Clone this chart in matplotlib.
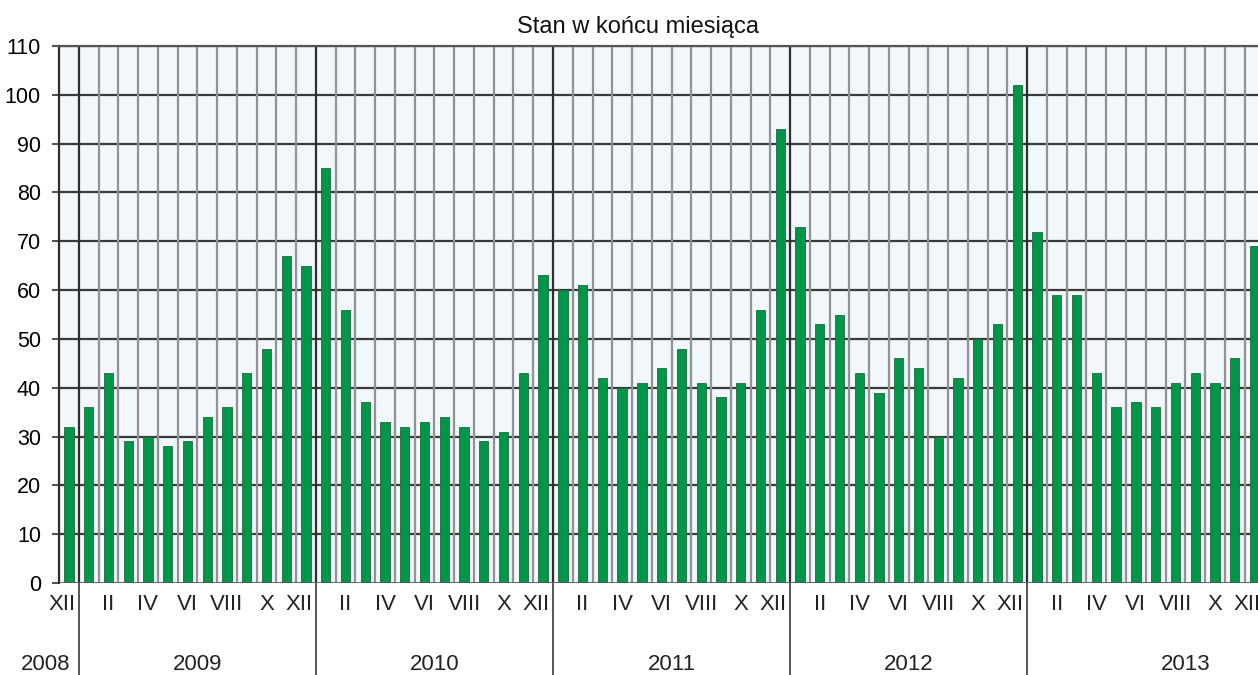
import matplotlib
matplotlib.use("Agg")
import matplotlib.pyplot as plt
from matplotlib.transforms import blended_transform_factory

plt.rcParams['font.family'] = ['Liberation Sans', 'DejaVu Sans']

title = "Stan w końcu miesiąca"
years = ["2008", "2009", "2010", "2011", "2012", "2013"]
months = ["I", "II", "III", "IV", "V", "VI", "VII", "VIII", "IX", "X", "XI", "XII"]

v2008 = [32]
v2009 = [36, 43, 29, 30, 28, 29, 34, 36, 43, 48, 67, 65]
v2010 = [85, 56, 37, 33, 32, 33, 34, 32, 29, 31, 43, 63]
v2011 = [60, 61, 42, 40, 41, 44, 48, 41, 38, 41, 56, 93]
v2012 = [73, 53, 55, 43, 39, 46, 44, 30, 42, 50, 53, 102]
v2013 = [72, 59, 59, 43, 36, 37, 36, 41, 43, 41, 46, 69]

values = v2008 + v2009 + v2010 + v2011 + v2012 + v2013
labels = ["XII"] + months * 5
n = len(values)
x = list(range(n))

W, H = 1258, 675
fig = plt.figure(figsize=(W / 100, H / 100), dpi=100)
ax = fig.add_axes([59 / W, (H - 583) / H, (W - 59) / W, (583 - 46) / H])
ax.set_facecolor('#F2F7FB')

ax.bar(x, values, width=0.47, color='#00964A', edgecolor='#1E6B3C', linewidth=0.6, zorder=3)

ax.set_xlim(-0.5, 60.18)
ax.set_ylim(0, 110)
ax.set_yticks(range(0, 111, 10))
ax.tick_params(axis='y', labelsize=15.5, length=5, width=1.2, color='#333333', pad=8)
ax.set_xticks([])

# horizontal grid
for yv in range(10, 111, 10):
    ax.axhline(yv, color='#3a3a3a', lw=1.6, zorder=1)
# vertical cell boundaries
for i in range(n):
    b = i + 0.5
    if i % 12 == 0:
        ax.axvline(b, color='#2e2e2e', lw=1.6, zorder=2)
    else:
        ax.axvline(b, color='#929292', lw=1.6, zorder=1)

for s in ['right', 'bottom']:
    ax.spines[s].set_visible(False)
ax.spines['left'].set_color('#2e2e2e')
ax.spines['left'].set_linewidth(1.6)
ax.spines['top'].set_color('#555555')
ax.spines['top'].set_linewidth(1.6)
ax.axhline(0, color='#555555', lw=1.2, zorder=4)

tr = blended_transform_factory(ax.transData, fig.transFigure)
# month labels (every second month); XII sits just left of the year divider
for i, lab in enumerate(labels):
    if lab == "XII":
        ax.text(i + 0.33, (H - 604) / H, lab, transform=tr,
                ha='right', va='center', fontsize=16, color='#222222',
                clip_on=False, zorder=6)
    elif lab in ("II", "IV", "VI", "VIII", "X"):
        ax.text(i, (H - 604) / H, lab, transform=tr,
                ha='center', va='center', fontsize=16, color='#222222',
                clip_on=False, zorder=6)

# year separators below the axis
for i in range(n):
    if i % 12 == 0:
        ax.plot([i + 0.5, i + 0.5], [0, (H - 583) / H], transform=tr,
                color='#555555', lw=1.4, clip_on=False, zorder=5)

year_pos = [-1.2, 6.5, 18.5, 30.5, 42.5, 56.5]
for yp, yl in zip(year_pos, years):
    ax.text(yp, (H - 665) / H, yl, transform=tr, ha='center', va='center',
            fontsize=16, color='#222222', clip_on=False)

fig.text(638 / W, (H - 27) / H, title, ha='center', va='center', fontsize=17, color='#111111')

fig.savefig('out.png', dpi=100)
